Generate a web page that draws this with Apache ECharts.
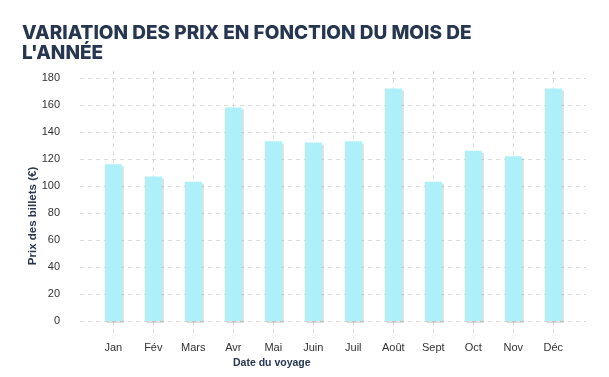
<!DOCTYPE html>
<html>
<head>
<meta charset="utf-8">
<script src="https://cdn.jsdelivr.net/npm/echarts@6/dist/echarts.min.js"></script>
<style>
  html, body { margin: 0; padding: 0; background: #fff; }
  #chart { width: 609px; height: 377px; }
</style>
</head>
<body>
<div id="chart"></div>
<script>
// données
const months = ["Jan", "Fév", "Mars", "Avr", "Mai", "Juin", "Juil", "Août", "Sept", "Oct", "Nov", "Déc"];
const prices = [116, 107, 103, 158, 133, 132, 133, 172, 103, 126, 122, 172];
const yTicks = { min: 0, max: 180, interval: 20 };

const chart = echarts.init(document.getElementById("chart"));
const labelFont = "'Liberation Sans', Arial, sans-serif";
const gridDash = { color: "#dcdcdc", width: 1, type: [4, 4] };

const option = {
  animation: false,
  title: {
    text: "VARIATION DES PRIX EN FONCTION DU MOIS DE\nL'ANNÉE",
    left: 17,
    top: 18,
    textStyle: {
      fontFamily: "Inter, 'Open Sans', sans-serif",
      fontWeight: 800,
      fontSize: 19,
      lineHeight: 20,
      color: "#263650",
    },
  },
  grid: [
    // grille horizontale + graduations y
    { left: 80, right: 23, top: 78, bottom: 56 },
    // barres + lignes verticales (centrées sur les mois)
    { left: 113.3, width: 440, top: 71, bottom: 56 },
  ],
  xAxis: [
    { gridIndex: 0, type: "value", show: false },
    {
      gridIndex: 1,
      type: "category",
      data: months,
      boundaryGap: false,
      axisLine: { show: false },
      axisTick: { show: true, length: 17, lineStyle: gridDash },
      splitLine: { show: true, lineStyle: gridDash },
      axisLabel: {
        margin: 21,
        color: "#333",
        fontSize: 11,
        fontFamily: labelFont,
        interval: 0,
      },
    },
  ],
  yAxis: [
    {
      gridIndex: 0,
      type: "value",
      min: yTicks.min,
      max: yTicks.max,
      interval: yTicks.interval,
      axisLine: { show: false },
      axisTick: { show: false },
      splitLine: { show: true, lineStyle: gridDash },
      axisLabel: { margin: 20, color: "#333", fontSize: 11, fontFamily: labelFont },
    },
    {
      gridIndex: 1,
      type: "value",
      min: 0,
      max: 185,
      show: false,
      splitLine: { show: false },
    },
  ],
  graphic: [
    {
      type: "text",
      left: 233,
      top: 358,
      style: {
        text: "Date du voyage",
        fill: "#263650",
        font: "bold 10.5px " + labelFont,
      },
    },
    {
      type: "text",
      x: 33,
      y: 216,
      rotation: Math.PI / 2,
      style: {
        text: "Prix des billets (€)",
        fill: "#263650",
        font: "bold 11.5px " + labelFont,
        align: "center",
        verticalAlign: "middle",
      },
    },
  ],
  series: [
    {
      type: "bar",
      xAxisIndex: 1,
      yAxisIndex: 1,
      data: prices,
      barWidth: 17,
      clip: false,
      itemStyle: {
        color: "#aef0fa",
        shadowColor: "rgba(0,0,0,0.13)",
        shadowOffsetX: 2,
        shadowOffsetY: 2,
        shadowBlur: 0,
      },
    },
  ],
};

chart.setOption(option);
</script>
</body>
</html>
